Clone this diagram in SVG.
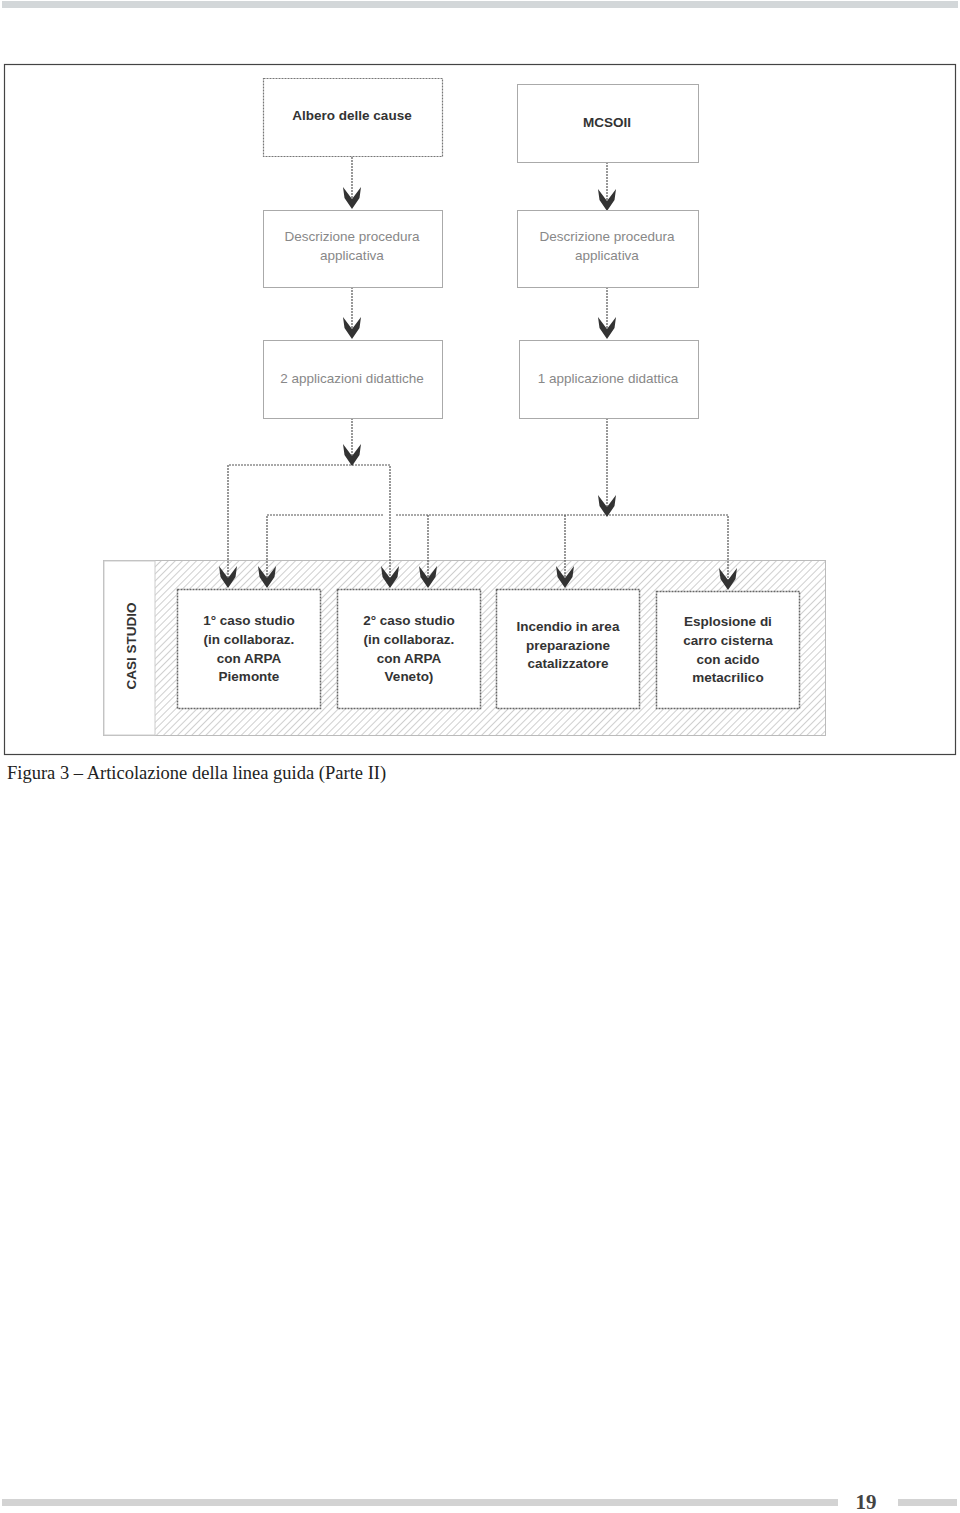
<svg xmlns="http://www.w3.org/2000/svg" width="960" height="1513" viewBox="0 0 960 1513">
<defs>
<style>
.box{fill:#fff;stroke:#777;stroke-width:1.2;stroke-dasharray:2 1}
.lbox{fill:#fff;stroke:#aaa;stroke-width:1}
.cbox{fill:#fff;stroke:#666;stroke-width:1.5;stroke-dasharray:2 1}
.tb{font-family:"Liberation Sans",Arial,sans-serif;font-weight:bold;font-size:13.5px;fill:#333;text-anchor:middle}
.tg{font-family:"Liberation Sans",Arial,sans-serif;font-size:13.5px;fill:#888;text-anchor:middle}
.ln{fill:none;stroke:#555;stroke-width:1.2;stroke-dasharray:2 1}
.ah{fill:#333}
</style>
<pattern id="hatch" width="5" height="5" patternUnits="userSpaceOnUse" patternTransform="rotate(45)">
<rect width="5" height="5" fill="#fff"/>
<line x1="0" y1="0" x2="0" y2="5" stroke="#bbb" stroke-width="1.4"/>
</pattern>
<path id="arr" d="M-9,-22 L0,-10 L9,-22 L7.5,-11 L0,0 L-7.5,-11 Z"/>
</defs>
<rect x="2" y="1" width="956" height="7" fill="#d3d7d9"/>
<rect x="4.5" y="64.5" width="951" height="690" fill="#fff" stroke="#444" stroke-width="1.2"/>

<g id="casi-studio">
<rect x="103.5" y="560.5" width="722" height="175" fill="url(#hatch)" stroke="#bbb" stroke-width="1"/>
<rect x="104" y="561" width="51" height="174" fill="#fff" stroke="#ccc" stroke-width="1"/>
<text class="tb" transform="translate(136,646) rotate(-90)">CASI STUDIO</text>
</g>

<g id="connectors">
<path class="ln" d="M352,157 V208 M607,162 V208 M352,287 V338 M607,287 V338"/>
<path class="ln" d="M352,418 V465 M228,587 V465 H390 V587"/>
<path class="ln" d="M607,418 V515 M267,587 V515 H384 M396,515 H728 V587 M428,515 V587 M565,515 V587"/>
<use href="#arr" class="ah" x="352" y="209"/>
<use href="#arr" class="ah" x="607" y="211"/>
<use href="#arr" class="ah" x="352" y="339"/>
<use href="#arr" class="ah" x="607" y="339"/>
<use href="#arr" class="ah" x="352" y="466"/>
<use href="#arr" class="ah" x="607" y="517"/>
<use href="#arr" class="ah" x="228" y="588"/>
<use href="#arr" class="ah" x="267" y="588"/>
<use href="#arr" class="ah" x="390" y="588"/>
<use href="#arr" class="ah" x="428" y="588"/>
<use href="#arr" class="ah" x="565" y="588"/>
<use href="#arr" class="ah" x="728" y="590"/>
</g>

<g id="albero">
<rect class="box" x="263.5" y="78.5" width="179" height="78"/>
<text class="tb" x="352" y="120">Albero delle cause</text>
</g>
<g id="mcsoii">
<rect class="lbox" x="517.5" y="84.5" width="181" height="78" stroke="#888"/>
<text class="tb" x="607" y="127">MCSOII</text>
</g>
<g id="descr-left">
<rect class="lbox" x="263.5" y="210.5" width="179" height="77"/>
<text class="tg" x="352" y="241">Descrizione procedura</text>
<text class="tg" x="352" y="260">applicativa</text>
</g>
<g id="descr-right">
<rect class="lbox" x="517.5" y="210.5" width="181" height="77"/>
<text class="tg" x="607" y="241">Descrizione procedura</text>
<text class="tg" x="607" y="260">applicativa</text>
</g>
<g id="app2">
<rect class="lbox" x="263.5" y="340.5" width="179" height="78"/>
<text class="tg" x="352" y="383">2 applicazioni didattiche</text>
</g>
<g id="app1">
<rect class="lbox" x="519.5" y="340.5" width="179" height="78"/>
<text class="tg" x="608" y="383">1 applicazione didattica</text>
</g>

<g id="caso1">
<rect class="cbox" x="177.5" y="589.5" width="143" height="119"/>
<text class="tb" x="249" y="625">1° caso studio</text>
<text class="tb" x="249" y="644">(in collaboraz.</text>
<text class="tb" x="249" y="663">con ARPA</text>
<text class="tb" x="249" y="681">Piemonte</text>
</g>
<g id="caso2">
<rect class="cbox" x="337.5" y="589.5" width="143" height="119"/>
<text class="tb" x="409" y="625">2° caso studio</text>
<text class="tb" x="409" y="644">(in collaboraz.</text>
<text class="tb" x="409" y="663">con ARPA</text>
<text class="tb" x="409" y="681">Veneto)</text>
</g>
<g id="caso3">
<rect class="cbox" x="496.5" y="589.5" width="143" height="119"/>
<text class="tb" x="568" y="631">Incendio in area</text>
<text class="tb" x="568" y="650">preparazione</text>
<text class="tb" x="568" y="668">catalizzatore</text>
</g>
<g id="caso4">
<rect class="cbox" x="656.5" y="591.5" width="143" height="117"/>
<text class="tb" x="728" y="626">Esplosione di</text>
<text class="tb" x="728" y="645">carro cisterna</text>
<text class="tb" x="728" y="664">con acido</text>
<text class="tb" x="728" y="682">metacrilico</text>
</g>

<text x="7" y="779" font-family="'Liberation Serif','Times New Roman',serif" font-size="18.5" fill="#222">Figura 3 – Articolazione della linea guida (Parte II)</text>

<rect x="2" y="1499" width="836" height="7" fill="#d3d3d3"/>
<rect x="898" y="1499" width="59" height="7" fill="#d3d3d3"/>
<text x="866" y="1509" font-family="'Liberation Serif','Times New Roman',serif" font-size="21" font-weight="bold" fill="#444" text-anchor="middle">19</text>
</svg>
